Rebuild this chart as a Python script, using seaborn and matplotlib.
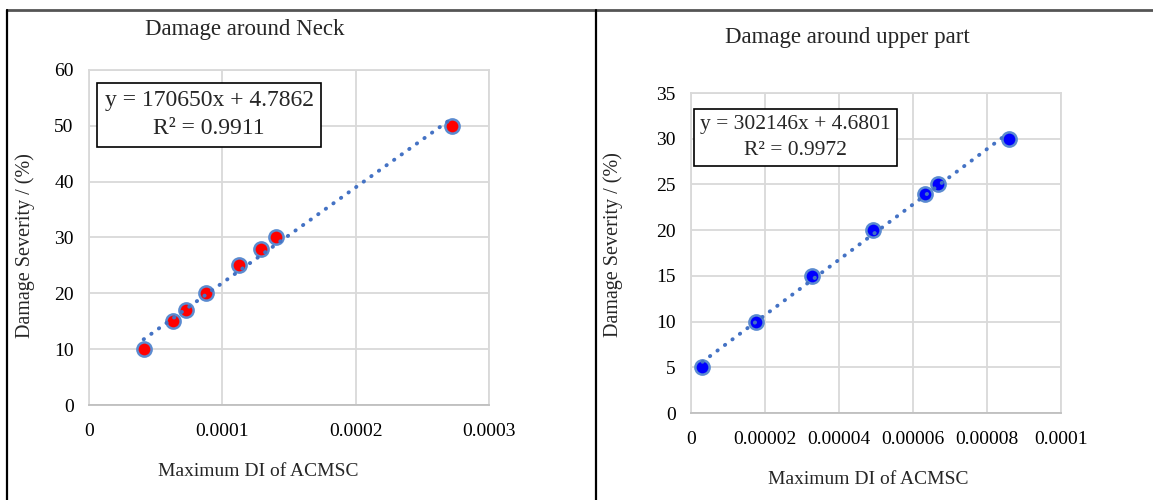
import numpy as np
import pandas as pd
import matplotlib
matplotlib.use('Agg')
import matplotlib.pyplot as plt
from matplotlib.lines import Line2D
from matplotlib.ticker import FuncFormatter
import seaborn as sns

### Data
neck_di = [0.000041, 0.000063, 0.0000725, 0.0000875, 0.0001125, 0.000129, 0.00014, 0.000272]
neck_sev = [10, 15, 17, 20, 25, 28, 30, 50]
upper_di = [0.0000031, 0.0000175, 0.0000327, 0.0000492, 0.0000633, 0.0000668, 0.0000859]
upper_sev = [5, 10, 15, 20, 24, 25, 30]

neck_eq = 'y = 170650x + 4.7862\nR² = 0.9911'
upper_eq = 'y = 302146x + 4.6801\nR² = 0.9972'
x_label = 'Maximum DI of ACMSC'
y_label = 'Damage Severity / (%)'

neck = pd.DataFrame({'di': neck_di, 'sev': neck_sev})
upper = pd.DataFrame({'di': upper_di, 'sev': upper_sev})

sns.set_style('white')
plt.rcParams['font.family'] = ['Liberation Serif', 'DejaVu Serif']

fig = plt.figure(figsize=(11.53, 5), dpi=100)
ax1 = fig.add_axes([0.0772, 0.19, 0.3469, 0.67])
ax2 = fig.add_axes([0.5993, 0.174, 0.3209, 0.64])

grid_c = '#D9D9D9'
line_kws = dict(color='#4472C4', lw=2.8, linestyle=(0, (0.1, 2.3)), dash_capstyle='round')


def fmt(v, pos):
    return np.format_float_positional(round(v, 7), trim='-')


def style(ax, xmax, xstep, ymax, ystep):
    ax.set_xlim(0, xmax)
    ax.set_ylim(0, ymax)
    ax.set_xticks(np.round(np.arange(0, xmax + xstep / 2, xstep), 7))
    ax.set_yticks(np.arange(0, ymax + 0.1, ystep))
    ax.xaxis.set_major_formatter(FuncFormatter(fmt))
    ax.grid(True, color=grid_c, lw=1.3)
    ax.set_axisbelow(True)
    for s in ax.spines.values():
        s.set_color(grid_c)
        s.set_linewidth(1.3)
    ax.spines['bottom'].set_color('#BFBFBF')
    ax.tick_params(length=0, labelsize=14, colors='black')
    ax.tick_params(axis='x', pad=13)
    ax.tick_params(axis='y', pad=11)
    ax.set_xlabel('')
    ax.set_ylabel('')


sns.regplot(data=neck, x='di', y='sev', ax=ax1, ci=None, truncate=True,
            scatter_kws=dict(s=105, color='#FF0000', edgecolors='#5B8BD0', linewidths=1.8, alpha=1),
            line_kws=line_kws)
style(ax1, 0.0003, 0.0001, 60, 10)

sns.regplot(data=upper, x='di', y='sev', ax=ax2, ci=None, truncate=True,
            scatter_kws=dict(s=105, color='#0000FF', edgecolors='#5B8BD0', linewidths=1.8, alpha=1),
            line_kws=line_kws)
style(ax2, 0.0001, 0.00002, 35, 5)

box = dict(boxstyle='square,pad=0.3', fc='white', ec='black', lw=1.2)
ax1.text(0.30, 0.866, neck_eq, transform=ax1.transAxes, ha='center', va='center',
         fontsize=17, linespacing=1.45, bbox=box, zorder=5)
ax2.text(0.282, 0.861, upper_eq, transform=ax2.transAxes, ha='center', va='center',
         fontsize=15.5, linespacing=1.45, bbox=box, zorder=5)

# titles and axis labels
fig.text(245 / 1153, 1 - 30 / 500, 'Damage around Neck', ha='center', va='center', fontsize=16.5)
fig.text(847 / 1153, 1 - 38 / 500, 'Damage around upper part', ha='center', va='center', fontsize=16.5)
fig.text(258 / 1153, 1 - 472 / 500, x_label, ha='center', va='center', fontsize=14)
fig.text(868 / 1153, 1 - 480 / 500, x_label, ha='center', va='center', fontsize=14)
fig.text(25 / 1153, 1 - 246 / 500, y_label, ha='center', va='center', fontsize=14.5, rotation=90)
fig.text(613 / 1153, 1 - 245 / 500, y_label, ha='center', va='center', fontsize=14.5, rotation=90)

# frame lines
fig.add_artist(Line2D([7 / 1153, 1], [1 - 10 / 500] * 2, color='#555555', lw=2))
fig.add_artist(Line2D([7 / 1153] * 2, [0, 1 - 10 / 500], color='black', lw=1.6))
fig.add_artist(Line2D([596 / 1153] * 2, [0, 1 - 10 / 500], color='black', lw=1.6))

fig.savefig('out.png', dpi=100)
